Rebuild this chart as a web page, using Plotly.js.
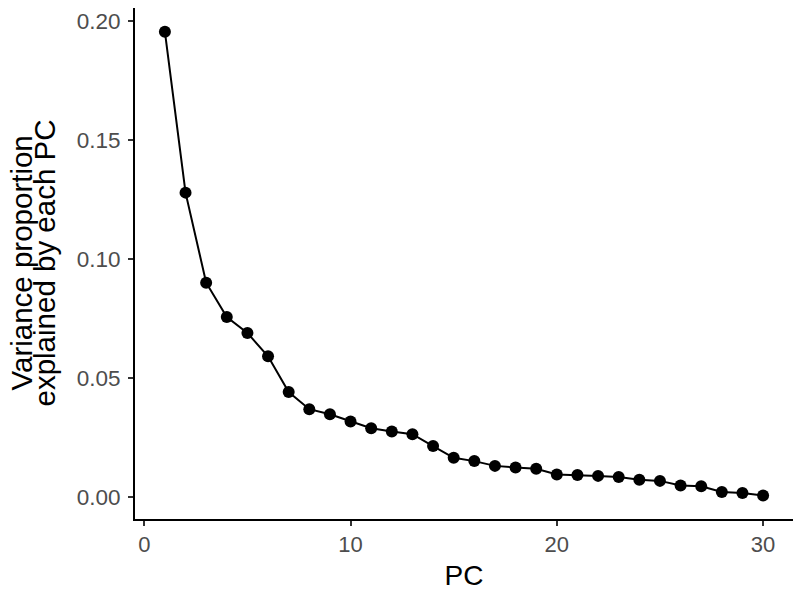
<!DOCTYPE html>
<html>
<head>
<meta charset="utf-8">
<script src="https://cdn.plot.ly/plotly-3.0.1.min.js"></script>
<style>html,body{margin:0;padding:0;background:#fff;}#chart{width:800px;height:600px;}</style>
</head>
<body>
<div id="chart"></div>
<script>
const pcs = [1,2,3,4,5,6,7,8,9,10,11,12,13,14,15,16,17,18,19,20,21,22,23,24,25,26,27,28,29,30];
const varianceProportion = [0.1953,0.1278,0.0900,0.0756,0.0689,0.0591,0.0441,0.0369,0.0348,0.0317,
  0.0289,0.0275,0.0264,0.0214,0.0165,0.0151,0.0131,0.0124,0.0119,0.0095,
  0.0093,0.0089,0.0084,0.0073,0.0068,0.0049,0.0045,0.0021,0.0017,0.0007];
const xTicks = [0,10,20,30];
const yTicks = [0.00,0.05,0.10,0.15,0.20];
const yTickText = ["0.00","0.05","0.10","0.15","0.20"];
const xTitle = 'PC';
const yTitleLines = ['Variance proportion', 'explained by each PC'];

const trace = {
  x: pcs, y: varianceProportion, type: 'scatter', mode: 'lines+markers',
  line: {color: '#000', width: 2},
  marker: {color: '#000', size: 12},
  hoverinfo: 'skip', showlegend: false
};
const font = 'Liberation Sans, Arial, sans-serif';
const layout = {
  width: 800, height: 600,
  margin: {l: 135, r: 7, t: 8, b: 81},
  paper_bgcolor: '#fff', plot_bgcolor: '#fff',
  font: {family: font},
  xaxis: {
    range: [-0.45, 31.45], tickvals: xTicks, ticktext: xTicks.map(String),
    showgrid: false, zeroline: false, showline: true, linecolor: '#000', linewidth: 2,
    ticks: 'outside', ticklen: 5, tickwidth: 2, tickcolor: '#333',
    tickfont: {size: 22, color: '#4D4D4D', family: font},
    title: {text: xTitle, font: {size: 28, color: '#000', family: font}, standoff: 9}
  },
  yaxis: {
    range: [-0.0092, 0.2053], tickvals: yTicks, ticktext: yTickText,
    showgrid: false, zeroline: false, showline: true, linecolor: '#000', linewidth: 2,
    ticks: 'outside', ticklen: 5, tickwidth: 2, tickcolor: '#333',
    tickfont: {size: 22.5, color: '#4D4D4D', family: font},
    ticklabelstandoff: 3
  },
  annotations: yTitleLines.map((t, i) => ({
    text: t, textangle: -90, showarrow: false,
    xref: 'paper', yref: 'paper', x: 0, y: 0.5, xanchor: 'center', yanchor: 'middle',
    xshift: -135 + (i === 0 ? 21 : 44),
    font: {size: 29.5, color: '#000', family: font}
  }))
};
Plotly.newPlot('chart', [trace], layout, {displayModeBar: false, staticPlot: true});
</script>
</body>
</html>
